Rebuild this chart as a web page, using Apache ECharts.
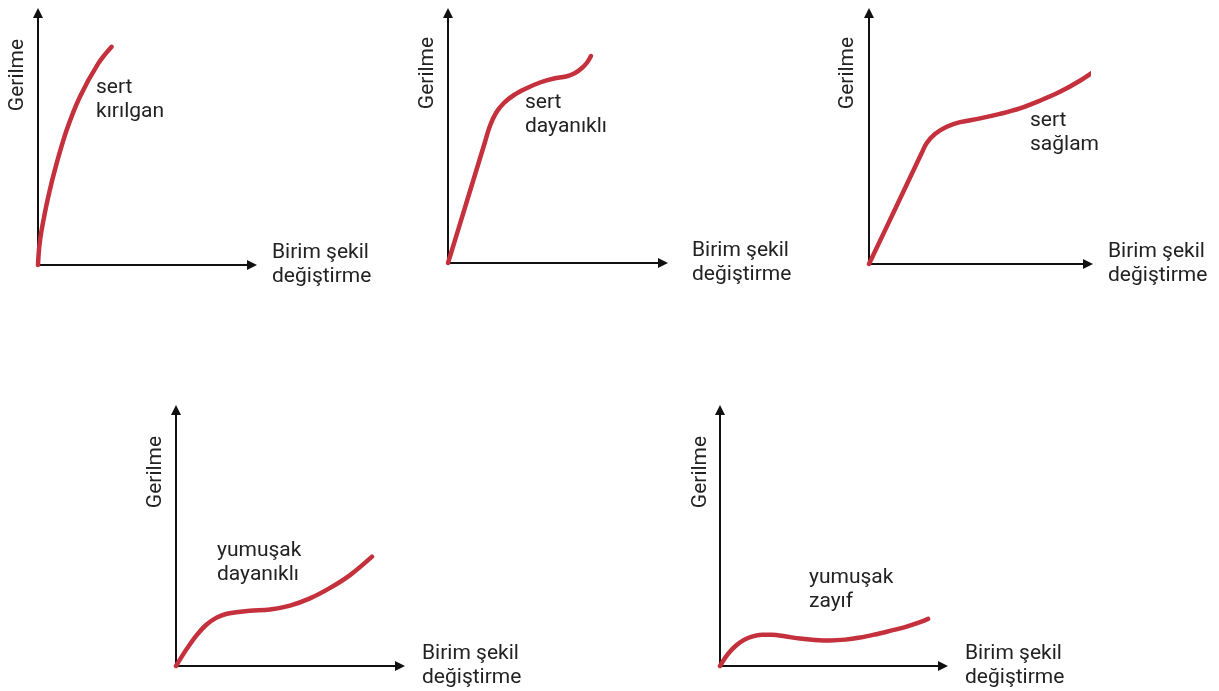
<!DOCTYPE html>
<html>
<head>
<meta charset="utf-8">
<script src="https://cdn.jsdelivr.net/npm/echarts@6/dist/echarts.min.js"></script>
<style>
  html, body { margin: 0; padding: 0; background: #ffffff; }
  #chart { width: 1219px; height: 691px; }
</style>
</head>
<body>
<div id="chart"></div>
<script>
// Axis names and curve labels
const xAxisName = 'Birim şekil\ndeğiştirme';
const yAxisName = 'Gerilme';
const curveLabels = ['sert\nkırılgan', 'sert\ndayanıklı', 'sert\nsağlam', 'yumuşak\ndayanıklı', 'yumuşak\nzayıf'];

// Curve values (strain, stress) in % of each axis length
const strain1 = [0, 0.6, 1.7, 4.8, 8.7, 13.4, 19.6, 28.2, 34.4];
const stress1 = [0, 7.3, 13.9, 27.1, 40.3, 53.6, 66.8, 80.0, 86.6];

const strain2 = [0, 8.4, 17.2, 19.5, 22.3, 26.0, 30.7, 36.3, 42.8, 49.3, 54.9, 59.1, 62.3, 64.7, 66.5];
const stress2 = [0, 23.6, 48.4, 54.8, 60.0, 64.0, 67.2, 69.8, 72.2, 73.8, 74.6, 76.0, 78.0, 80.2, 82.8];

const strain3 = [0, 12.0, 24.0, 26.3, 30.1, 35.5, 41.6, 50.7, 59.8, 68.9, 78.1, 87.2, 96.3, 103.7];
const stress3 = [0, 22.0, 44.1, 48.1, 51.8, 54.7, 56.5, 58.0, 59.8, 62.0, 65.1, 68.6, 73.0, 77.3];

const strain4 = [0, 4.5, 8.9, 13.4, 17.9, 22.3, 26.8, 33.0, 42.0, 50.9, 59.8, 68.8, 77.7, 87.5];
const stress4 = [0, 6.3, 11.7, 16.0, 18.8, 20.3, 21.0, 21.6, 22.1, 23.6, 26.4, 30.5, 35.5, 42.7];

const strain5 = [0, 3.6, 7.2, 10.8, 14.3, 18.8, 23.3, 29.1, 35.9, 42.6, 49.3, 56.1, 62.8, 69.5, 76.2, 83.0, 89.7, 93.3];
const stress5 = [0, 4.7, 8.0, 10.2, 11.5, 12.2, 12.2, 11.6, 10.7, 10.2, 10.0, 10.3, 11.1, 12.3, 13.7, 15.2, 17.1, 18.4];

const strains = [strain1, strain2, strain3, strain4, strain5];
const stresses = [stress1, stress2, stress3, stress4, stress5];

// Layout
const grids = [
  { left: 38,  top: 13,  width: 214, height: 252 },
  { left: 448, top: 13,  width: 215, height: 250 },
  { left: 869, top: 13,  width: 219, height: 251 },
  { left: 176, top: 410, width: 224, height: 256 },
  { left: 720, top: 410, width: 223, height: 256 }
];
const xNameGap = [20, 29, 20, 22, 22];
const yNamePos = [[18, 75], [428, 73], [848, 73], [156, 472], [701, 472]];
const labelPos = [[96, 76], [525, 91], [1030, 109], [217, 539], [809, 566]];

const RED = '#c4303c';
const AXIS = '#111111';
const TEXT = '#222222';
const FONT = 'Roboto';
const FS = 21;

const chart = echarts.init(document.getElementById('chart'), null, { renderer: 'canvas' });

const xAxes = grids.map((g, i) => ({
  gridIndex: i, type: 'value', min: 0, max: 100,
  axisLine: { show: true, onZero: false, lineStyle: { color: AXIS, width: 2 },
              symbol: ['none', 'triangle'], symbolSize: [10, 10] },
  axisTick: { show: false }, axisLabel: { show: false }, splitLine: { show: false },
  name: xAxisName, nameLocation: 'end', nameGap: xNameGap[i],
  nameTextStyle: { fontFamily: FONT, fontSize: FS, lineHeight: 24, color: TEXT,
                   align: 'left', verticalAlign: 'middle' }
}));
const yAxes = grids.map((g, i) => ({
  gridIndex: i, type: 'value', min: 0, max: 100,
  axisLine: { show: true, onZero: false, lineStyle: { color: AXIS, width: 2 },
              symbol: ['none', 'triangle'], symbolSize: [10, 10] },
  axisTick: { show: false }, axisLabel: { show: false }, splitLine: { show: false }
}));
const series = strains.map((xs, i) => ({
  type: 'line', xAxisIndex: i, yAxisIndex: i,
  data: xs.map((x, k) => [x, stresses[i][k]]),
  smooth: 0.35, showSymbol: false, clip: false,
  lineStyle: { color: RED, width: 4.5, cap: 'round' },
  z: 1
}));

const graphic = [];
yNamePos.forEach(p => graphic.push({
  type: 'text', x: p[0], y: p[1], rotation: Math.PI / 2,
  style: { text: yAxisName, fontFamily: FONT, fontSize: FS, fill: TEXT,
           align: 'center', verticalAlign: 'middle' }
}));
labelPos.forEach((p, i) => graphic.push({
  type: 'text', x: p[0], y: p[1],
  style: { text: curveLabels[i], fontFamily: FONT, fontSize: FS, lineHeight: 24,
           fill: TEXT, align: 'left', verticalAlign: 'top' }
}));

chart.setOption({
  animation: false,
  backgroundColor: '#ffffff',
  grid: grids.map(g => Object.assign({ containLabel: false }, g)),
  xAxis: xAxes,
  yAxis: yAxes,
  series: series,
  graphic: graphic
});
</script>
</body>
</html>
